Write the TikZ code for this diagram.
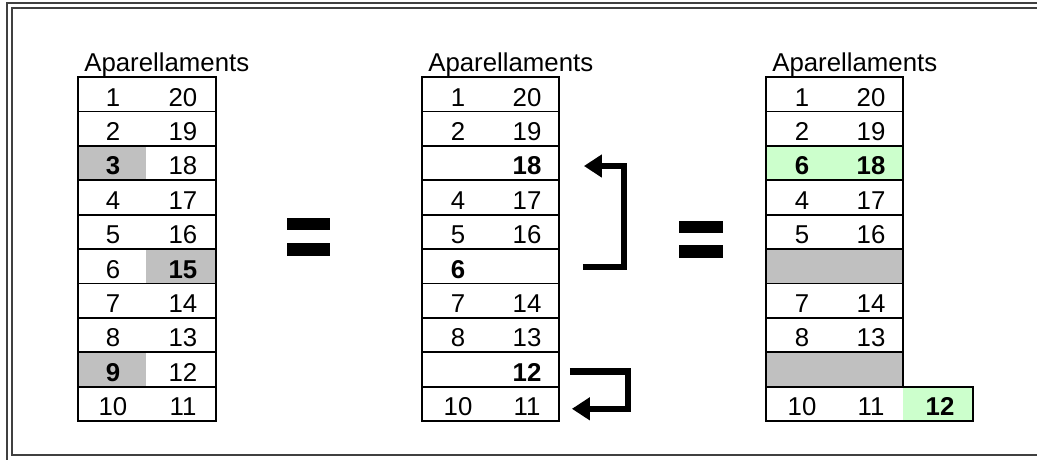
\documentclass[tikz,border=0pt]{standalone}
\usepackage{fontspec}
\setmainfont{Liberation Sans}
\usetikzlibrary{arrows.meta}
\definecolor{cellgrey}{HTML}{C0C0C0}
\definecolor{cellgreen}{HTML}{CCFFCC}
\definecolor{framegrey}{HTML}{404040}
\tikzset{
  rowbox/.style={draw, line width=1.8pt, minimum height=34.4pt, inner sep=0pt},
  num/.style={anchor=base, inner sep=0pt, font=\fontsize{25.8}{30}\selectfont},
  hdr/.style={anchor=base west, inner sep=0pt, font=\fontsize{25.8}{30}\selectfont},
  movearrow/.style={line width=6.5pt, -{Triangle[length=18pt,width=22pt]}}
}
\begin{document}
\begin{tikzpicture}[x=1pt,y=-1pt]
        \useasboundingbox (0,0) rectangle (1037,459);
        \draw[framegrey, line width=1.5pt] (1040,3) -- (7,3) -- (7,462);
        \draw[framegrey, line width=1.5pt] (1040,8) -- (12,8) -- (12,455) -- (1040,455);

        % first table
        \fill[cellgrey] (78,145.8) rectangle (146,180.2);
        \fill[cellgrey] (146,249) rectangle (216,283.4);
        \fill[cellgrey] (78,352.2) rectangle (146,386.6);
        \foreach \l/\r [count=\i] in {1/20, 2/19, \textbf{3}/18, 4/17, 5/16, 6/\textbf{15}, 7/14, 8/13, \textbf{9}/12, 10/11} {
            \node[rowbox, minimum width=138pt] (a\i) at (147,{77+34.4*(\i-0.5)}) {};
            \node[num] (al\i) at (113,{71.6+34.4*\i}) {\l};
            \node[num] (ar\i) at (183,{71.6+34.4*\i}) {\r};
        }
        \node[hdr] (ahead) at ([xshift=7pt,yshift=5pt]a1.north west) {Aparellaments};

        \fill (287,218) rectangle (330,230);
        \fill (287,243) rectangle (330,256);

        % second table
        \foreach \l/\r [count=\i] in {1/20, 2/19, {}/\textbf{18}, 4/17, 5/16, \textbf{6}/{}, 7/14, 8/13, {}/\textbf{12}, 10/11} {
            \node[rowbox, minimum width=137pt] (b\i) at (490.5,{77+34.4*(\i-0.5)}) {};
            \node[num] (bl\i) at (458,{71.6+34.4*\i}) {\l};
            \node[num] (br\i) at (527,{71.6+34.4*\i}) {\r};
        }
        \node[hdr] (bhead) at ([xshift=7pt,yshift=5pt]b1.north west) {Aparellaments};

        \draw[movearrow] ([xshift=23pt,yshift=-1pt]b6.east) -- ++(41,0) |- ([xshift=24pt,yshift=-3pt]b3.east);
        \draw[movearrow] ([xshift=10pt,yshift=-2pt]b9.east) -- ++(58,0) |- ([xshift=12pt,yshift=-5pt]b10.east);

        \fill (679,221) rectangle (723,233);
        \fill (679,245) rectangle (723,258);

        % third table
        \foreach \l/\r/\c [count=\i] in {1/20/white, 2/19/white, \textbf{6}/\textbf{18}/cellgreen, 4/17/white, 5/16/white, {}/{}/cellgrey, 7/14/white, 8/13/white, {}/{}/cellgrey} {
            \node[rowbox, fill=\c, minimum width=137pt] (c\i) at (834.5,{77+34.4*(\i-0.5)}) {};
            \node[num] (cl\i) at (802,{71.6+34.4*\i}) {\l};
            \node[num] (cr\i) at (871,{71.6+34.4*\i}) {\r};
        }
        \fill[cellgreen] (903,386.6) rectangle (973,421);
        \node[rowbox, minimum width=207pt] (c10) at (869.5,403.8) {};
        \node[num] (cl10) at (802,415.6) {10};
        \node[num] (cr10) at (871,415.6) {11};
        \node[num] (cx10) at (940,415.6) {\textbf{12}};
        \node[hdr] (chead) at ([xshift=7pt,yshift=5pt]c1.north west) {Aparellaments};
    \end{tikzpicture}
\end{document}
